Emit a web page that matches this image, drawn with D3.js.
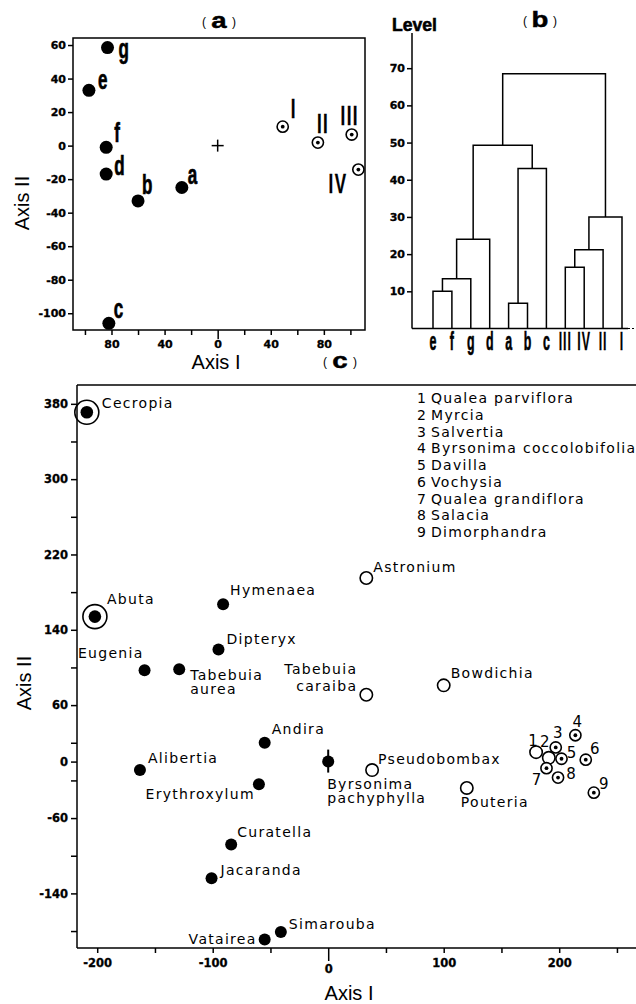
<!DOCTYPE html>
<html>
<head>
<meta charset="utf-8">
<script src="https://cdn.jsdelivr.net/npm/d3@7"></script>
<style>
  body { margin: 0; background: #fff; }
  svg { display: block; }
  .tick text { font-family: "DejaVu Sans", sans-serif; font-weight: bold; font-size: 11px; fill: #000; stroke: #000; stroke-width: 0.3; }
  .tick line { stroke: #000; stroke-width: 1.5; }
  .axc .tick text { font-size: 11.5px; }
  .axis-title { font-family: "Liberation Sans", Arial, sans-serif; font-size: 20px; fill: #000; }
  .lbl { font-family: "DejaVu Sans", sans-serif; font-size: 14px; letter-spacing: 1.3px; fill: #000; }
  .num { font-family: "DejaVu Sans", sans-serif; font-size: 15px; fill: #000; }
</style>
</head>
<body>
<svg id="chart" width="636" height="1004"></svg>
<script>
// (a) sites on the first two axes
const siteNames = ["a", "b", "c", "d", "e", "f", "g", "I", "II", "III", "IV"];
const siteAxis1 = [-27, -60, -82, -84, -97, -84, -83, 49, 75.5, 101, 106];
const siteAxis2 = [-25, -33, -106, -17, 33, -1, 58.5, 11.3, 1.8, 6.6, -14.3];
const siteKind = ["filled", "filled", "filled", "filled", "filled", "filled", "filled", "dotted", "dotted", "dotted", "dotted"];
const aTicksY = [-100, -80, -60, -40, -20, 0, 20, 40, 60];
const aTicksX = [-100, -80, -60, -40, -20, 0, 20, 40, 60, 80, 100];
const aTickLabelsX = [-80, -40, 0, 40, 80];

// (b) dendrogram
const leaves = ["e", "f", "g", "d", "a", "b", "c", "III", "IV", "II", "I"];
const mergeLeft = ["e", "m0", "m1", "a", "m3", "m2", "III", "m6", "m7", "m5"];
const mergeRight = ["f", "g", "d", "b", "c", "m4", "IV", "II", "I", "m8"];
const mergeLevel = [10, 13.4, 24, 6.8, 43, 49.3, 16.5, 21.2, 30, 68.5];
const bTicks = [10, 20, 30, 40, 50, 60, 70];

// (c) species
const species = ["Cecropia", "Abuta", "Hymenaea", "Dipteryx", "Eugenia", "Tabebuia aurea", "Andira",
  "Alibertia", "Erythroxylum", "Curatella", "Jacaranda", "Simarouba", "Vatairea", "Byrsonima pachyphylla",
  "Astronium", "Tabebuia caraiba", "Bowdichia", "Pseudobombax", "Pouteria",
  "1", "2", "3", "4", "5", "6", "7", "8", "9"];
const spAxis1 = [-209, -202, -91, -95, -159, -129, -55, -163, -60, -84, -101, -41, -55, 0,
  33, 33, 100, 38, 120, 180, 191, 197, 214, 202, 223, 189, 199, 230];
const spAxis2 = [371, 154, 167, 119, 97, 98, 20, -9, -24, -88, -124, -181, -189, 0,
  195, 71, 81, -9, -28, 10, 4, 15, 28, 3, 2, -7, -17, -33];
const spKind = ["ring", "ring", "filled", "filled", "filled", "filled", "filled", "filled", "filled",
  "filled", "filled", "filled", "filled", "cross", "open", "open", "open", "open", "open",
  "open", "open", "dotted", "dotted", "dotted", "dotted", "dotted", "dotted", "dotted"];
const cTicksX = [-200, -150, -100, -50, 0, 50, 100, 150, 200, 250];
const cTickLabelsX = [-200, -100, 0, 100, 200];
const cTicksY = [380, 340, 300, 260, 220, 180, 140, 100, 60, 20, 0, -20, -60, -100, -140, -180];
const cTickLabelsY = [380, 300, 220, 140, 60, 0, -60, -140];
const legendNums = ["1", "2", "3", "4", "5", "6", "7", "8", "9"];
const legendNames = ["Qualea parviflora", "Myrcia", "Salvertia", "Byrsonima coccolobifolia", "Davilla",
  "Vochysia", "Qualea grandiflora", "Salacia", "Dimorphandra"];

// label placement: dx, dy, anchor, line gap
const siteLabelPos = {
  a: [6, -4, "start"], b: [4, -7, "start"], c: [5, -5, "start"], d: [8, 1, "start"],
  e: [9, -1, "start"], f: [8, -5, "start"], g: [11, 10, "start"],
  I: [8, -9, "start"], II: [-1, -10, "start"], III: [-2, -10, "middle"], IV: [-11, 23, "end"]
};
const spLabelPos = {
  "Cecropia": [15, -4, "start"], "Abuta": [12, -13, "start"], "Hymenaea": [7, -9, "start"],
  "Dipteryx": [8, -6, "start"], "Eugenia": [-1, -12, "end"], "Tabebuia aurea": [11, 11, "start", 14],
  "Andira": [7, -9, "start"], "Alibertia": [8, -7, "start"], "Erythroxylum": [-4, 15, "end"],
  "Curatella": [6, -7, "start"], "Jacaranda": [9, -3, "start"], "Simarouba": [8, -3, "start"],
  "Vatairea": [-8, 4, "end"], "Byrsonima pachyphylla": [-1, 27, "start", 14.5],
  "Astronium": [7, -6, "start"], "Tabebuia caraiba": [-9, -21, "end", 17], "Bowdichia": [7, -7, "start"],
  "Pseudobombax": [6, -6, "start"], "Pouteria": [-6, 19, "start"],
  "1": [-3, -6], "2": [-4, -11], "3": [2, -9], "4": [2, -8], "5": [10, -1],
  "6": [9, -6], "7": [-10, 17], "8": [13, 1], "9": [10, -4]
};

const svg = d3.select("#chart");
const heavy = '"Liberation Sans", Arial, sans-serif';

function bigText(g, x, y, text, anchor, size, sx, sy) {
  const roman = /^[IV]+$/.test(text);
  return g.append("text")
    .attr("transform", `translate(${x},${y}) scale(${sx},${sy})`)
    .attr("text-anchor", anchor)
    .style("font-family", heavy).style("font-weight", "bold")
    .style("font-size", size + "px")
    .style("letter-spacing", roman ? "1.6px" : "0px")
    .attr("fill", "#000").attr("stroke", "#000").attr("stroke-width", roman ? 0.2 : 0.5)
    .text(text);
}

function panelTitle(x, y, letter) {
  const g = svg.append("g");
  bigText(g, x, y, letter, "middle", 24, 1.15, 0.95);
  g.append("text").attr("x", x - 15).attr("y", y - 2).attr("text-anchor", "middle")
    .style("font-family", heavy).style("font-size", "12px").text("(");
  g.append("text").attr("x", x + 15).attr("y", y - 2).attr("text-anchor", "middle")
    .style("font-family", heavy).style("font-size", "12px").text(")");
}

function marker(g, cx, cy, kind, big) {
  const r = big ? 6.5 : 6;
  if (kind === "filled") {
    g.append("circle").attr("cx", cx).attr("cy", cy).attr("r", r).attr("fill", "#000");
  } else if (kind === "ring") {
    g.append("circle").attr("cx", cx).attr("cy", cy).attr("r", 12).attr("fill", "none")
      .attr("stroke", "#000").attr("stroke-width", 1.6);
    g.append("circle").attr("cx", cx).attr("cy", cy).attr("r", 6.3).attr("fill", "#000");
  } else if (kind === "open") {
    g.append("circle").attr("cx", cx).attr("cy", cy).attr("r", 6.2).attr("fill", "#fff")
      .attr("stroke", "#000").attr("stroke-width", 1.6);
  } else if (kind === "dotted") {
    g.append("circle").attr("cx", cx).attr("cy", cy).attr("r", 5.6).attr("fill", "#fff")
      .attr("stroke", "#000").attr("stroke-width", 1.6);
    g.append("circle").attr("cx", cx).attr("cy", cy).attr("r", 1.9).attr("fill", "#000");
  } else if (kind === "cross") {
    g.append("line").attr("x1", cx).attr("x2", cx).attr("y1", cy - 12).attr("y2", cy + 11)
      .attr("stroke", "#000").attr("stroke-width", 2);
    g.append("circle").attr("cx", cx).attr("cy", cy).attr("r", 6).attr("fill", "#000");
  }
}

// ---------- panel (a)
const xA = d3.scaleLinear().domain([-109, 111]).range([73, 365]);
const yA = d3.scaleLinear().domain([-110, 64.2]).range([330, 38]);

svg.append("rect").attr("x", 73).attr("y", 38).attr("width", 292).attr("height", 292)
  .attr("fill", "none").attr("stroke", "#000").attr("stroke-width", 1.5);

svg.append("g").attr("transform", "translate(73,0)")
  .call(d3.axisLeft(yA).tickValues(aTicksY).tickSize(5).tickPadding(2).tickFormat(d => String(d)))
  .call(g => g.select(".domain").remove());

svg.append("g").attr("transform", "translate(0,330)")
  .call(d3.axisBottom(xA).tickValues(aTicksX).tickSize(5).tickPadding(5)
    .tickFormat(d => aTickLabelsX.includes(d) ? String(Math.abs(d)) : ""))
  .call(g => g.select(".domain").remove())
  .call(g => g.selectAll(".tick").filter(d => d === 0).select("line").attr("y2", 9));

const gA = svg.append("g");
gA.append("line").attr("x1", xA(0) - 6).attr("x2", xA(0) + 6).attr("y1", yA(0)).attr("y2", yA(0))
  .attr("stroke", "#000").attr("stroke-width", 1.5);
gA.append("line").attr("x1", xA(0)).attr("x2", xA(0)).attr("y1", yA(0) - 6).attr("y2", yA(0) + 6)
  .attr("stroke", "#000").attr("stroke-width", 1.5);

siteNames.forEach((n, i) => {
  const cx = xA(siteAxis1[i]), cy = yA(siteAxis2[i]);
  marker(gA, cx, cy, siteKind[i], true);
  const p = siteLabelPos[n];
  bigText(gA, cx + p[0], cy + p[1], n, p[2], 20, 0.85, 1.35);
});

svg.append("text").attr("class", "axis-title").attr("x", 216).attr("y", 369)
  .attr("text-anchor", "middle").text("Axis I");
svg.append("text").attr("class", "axis-title").attr("text-anchor", "middle")
  .attr("transform", "translate(29,203) rotate(-90)").text("Axis II");
panelTitle(219, 28, "a");

// ---------- panel (b)
const xB = d3.scalePoint().domain(leaves).range([433, 622]);
const yB = d3.scaleLinear().domain([0, 80]).range([328.5, 31]);

const gB = svg.append("g");
gB.append("line").attr("x1", 412).attr("x2", 412).attr("y1", 33).attr("y2", yB(0))
  .attr("stroke", "#000").attr("stroke-width", 1.5);
gB.append("line").attr("x1", 412).attr("x2", 628).attr("y1", yB(0)).attr("y2", yB(0))
  .attr("stroke", "#000").attr("stroke-width", 1.3);
gB.append("line").attr("x1", 628).attr("x2", 636).attr("y1", yB(0)).attr("y2", yB(0))
  .attr("stroke", "#000").attr("stroke-width", 1).attr("stroke-dasharray", "2,2");

svg.append("g").attr("transform", "translate(412,0)")
  .call(d3.axisLeft(yB).tickValues(bTicks).tickSize(5).tickPadding(2).tickFormat(d => String(d)))
  .call(g => g.select(".domain").remove());

const nodeX = {}, nodeLevel = {};
leaves.forEach(l => { nodeX[l] = xB(l); nodeLevel[l] = 0; });
mergeLevel.forEach((lev, i) => {
  const a = mergeLeft[i], b = mergeRight[i];
  const id = "m" + i;
  nodeX[id] = (nodeX[a] + nodeX[b]) / 2;
  nodeLevel[id] = lev;
  const path = d3.path();
  path.moveTo(nodeX[a], yB(nodeLevel[a]));
  path.lineTo(nodeX[a], yB(lev));
  path.lineTo(nodeX[b], yB(lev));
  path.lineTo(nodeX[b], yB(nodeLevel[b]));
  gB.append("path").attr("d", path.toString()).attr("fill", "none")
    .attr("stroke", "#000").attr("stroke-width", 1.5);
});

leaves.forEach(l => bigText(gB, xB(l), 350, l, "middle", 20, 0.62, 1.3));
bigText(gB, 392, 31, "Level", "start", 16, 1.1, 1.1);
panelTitle(540, 27, "b");

// ---------- panel (c)
const xC = d3.scaleLinear().domain([-217.5, 266.5]).range([77, 636]);
const yC = d3.scaleLinear().domain([-198, 400]).range([948, 385]);

const gC = svg.append("g");
gC.append("line").attr("x1", 77).attr("x2", 636).attr("y1", 385).attr("y2", 385)
  .attr("stroke", "#000").attr("stroke-width", 1.5);
gC.append("line").attr("x1", 77).attr("x2", 636).attr("y1", 948).attr("y2", 948)
  .attr("stroke", "#000").attr("stroke-width", 1.5);
gC.append("line").attr("x1", 77).attr("x2", 77).attr("y1", 385).attr("y2", 948)
  .attr("stroke", "#000").attr("stroke-width", 1.5);

svg.append("g").attr("class", "axc").attr("transform", "translate(77,0)")
  .call(d3.axisLeft(yC).tickValues(cTicksY).tickSize(6).tickPadding(3)
    .tickFormat(d => cTickLabelsY.includes(d) ? String(d) : ""))
  .call(g => g.select(".domain").remove());

svg.append("g").attr("class", "axc").attr("transform", "translate(0,948)")
  .call(d3.axisBottom(xC).tickValues(cTicksX).tickSize(5).tickPadding(6)
    .tickFormat(d => cTickLabelsX.includes(d) ? String(d) : ""))
  .call(g => g.select(".domain").remove())
  .call(g => g.selectAll(".tick").filter(d => d === 0).select("line").attr("y2", 13))
  .call(g => g.selectAll(".tick").filter(d => d === 0).select("text").attr("y", 17));

species.forEach((n, i) => {
  const cx = xC(spAxis1[i]), cy = yC(spAxis2[i]);
  marker(gC, cx, cy, spKind[i], false);
  const p = spLabelPos[n];
  if (/^\d$/.test(n)) {
    gC.append("text").attr("class", "num").attr("x", cx + p[0]).attr("y", cy + p[1])
      .attr("text-anchor", "middle").text(n);
    return;
  }
  const lines = p[3] ? n.split(" ") : [n];
  lines.forEach((t, k) => {
    gC.append("text").attr("class", "lbl").attr("x", cx + p[0]).attr("y", cy + p[1] + k * (p[3] || 0))
      .attr("text-anchor", p[2]).text(t);
  });
});

const gL = svg.append("g");
legendNames.forEach((name, i) => {
  const y = 403 + i * 16.75;
  gL.append("text").attr("class", "lbl").attr("x", 417).attr("y", y).text(legendNums[i]);
  gL.append("text").attr("class", "lbl").attr("x", 431).attr("y", y).text(name);
});

svg.append("text").attr("class", "axis-title").attr("x", 349).attr("y", 1000)
  .attr("text-anchor", "middle").text("Axis I");
svg.append("text").attr("class", "axis-title").attr("text-anchor", "middle")
  .attr("transform", "translate(31,683) rotate(-90)").text("Axis II");
panelTitle(340, 368, "c");
</script>
</body>
</html>
